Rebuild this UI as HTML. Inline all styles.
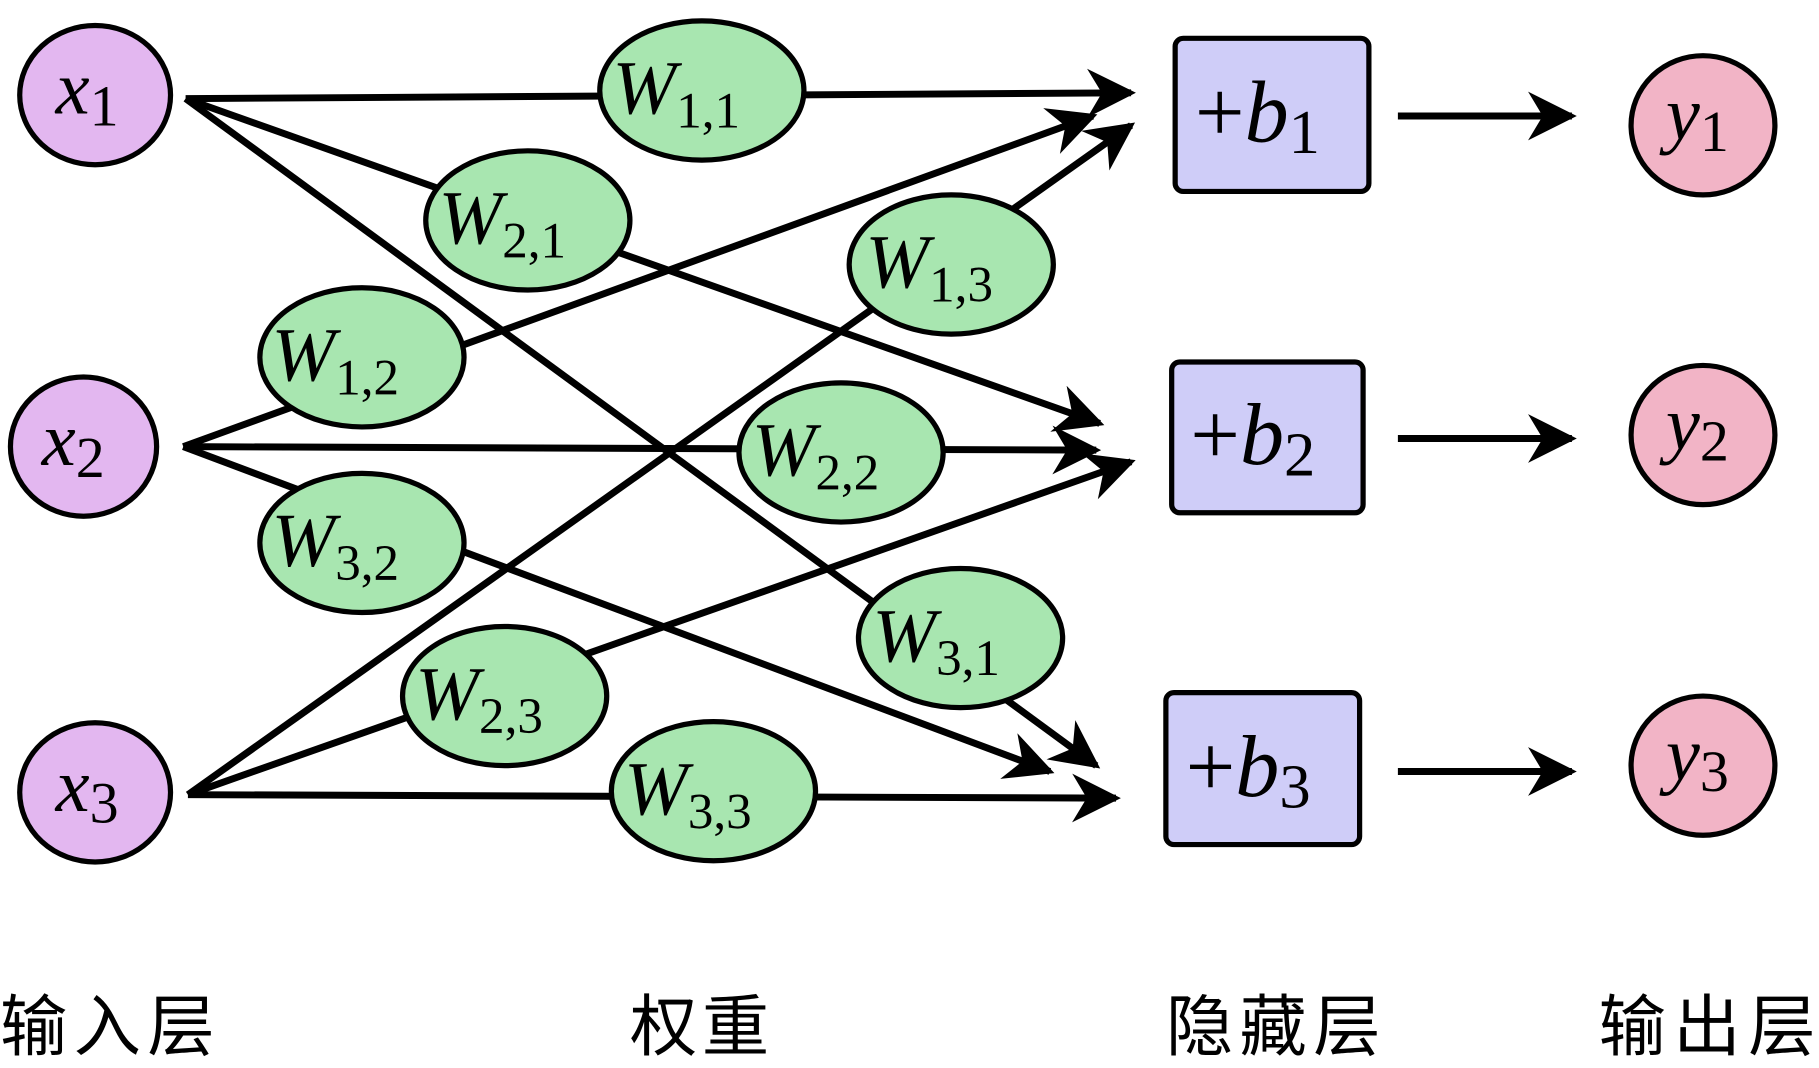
<!DOCTYPE html>
<html><head><meta charset="utf-8"><style>
html,body{margin:0;padding:0;background:#fff;}
svg{display:block}
.m{font-family:"Liberation Serif",serif;font-style:italic;}
.s{font-family:"Liberation Serif",serif;font-style:normal;}
.cjk{font-family:"Liberation Sans","Noto Sans CJK SC",sans-serif;font-size:58px;}
</style></head><body>
<svg width="1819" height="1068" viewBox="0 0 1568 920.6" xmlns="http://www.w3.org/2000/svg">
<defs>
<marker id="a" viewBox="0 0 10 10" refX="9" refY="5" markerWidth="7.5" markerHeight="7" orient="auto" markerUnits="strokeWidth">
<path d="M0,0 L10,5 L0,10 L3,5 z" fill="#000"/>
</marker>
</defs>
<g stroke="#000" stroke-width="6" fill="none" marker-end="url(#a)">
<line x1="160" y1="85" x2="975" y2="80"/>
<line x1="160" y1="85" x2="948" y2="365"/>
<line x1="160" y1="85" x2="945" y2="660"/>
<line x1="158" y1="385" x2="942" y2="100"/>
<line x1="158" y1="385" x2="945" y2="388"/>
<line x1="158" y1="385" x2="905" y2="665"/>
<line x1="162" y1="685" x2="975" y2="108"/>
<line x1="162" y1="685" x2="975" y2="398"/>
<line x1="162" y1="685" x2="962" y2="688"/>
<line x1="1205" y1="100" x2="1355" y2="100"/>
<line x1="1205" y1="378" x2="1355" y2="378"/>
<line x1="1205" y1="665" x2="1355" y2="665"/>
</g>
<g stroke="#000" stroke-width="4.5">
<ellipse cx="82" cy="82" rx="65" ry="60" fill="#e3b7f0"/>
<ellipse cx="72" cy="385" rx="63" ry="60" fill="#e3b7f0"/>
<ellipse cx="82" cy="683" rx="65" ry="60" fill="#e3b7f0"/>
<g fill="#a8e6b0">
<ellipse cx="605" cy="78" rx="88" ry="60"/>
<ellipse cx="455" cy="190" rx="88" ry="60"/>
<ellipse cx="820" cy="228" rx="88" ry="60"/>
<ellipse cx="312" cy="308" rx="88" ry="60"/>
<ellipse cx="725" cy="390" rx="88" ry="60"/>
<ellipse cx="312" cy="468" rx="88" ry="60"/>
<ellipse cx="828" cy="550" rx="88" ry="60"/>
<ellipse cx="435" cy="600" rx="88" ry="60"/>
<ellipse cx="615" cy="682" rx="88" ry="60"/>
</g>
<g fill="#cfcdf8">
<rect x="1013" y="33" width="167" height="132" rx="7"/>
<rect x="1010" y="312" width="165" height="130" rx="7"/>
<rect x="1005" y="597" width="167" height="131" rx="7"/>
</g>
<g fill="#f2b4c6">
<ellipse cx="1468" cy="108" rx="62" ry="60"/>
<ellipse cx="1468" cy="375" rx="62" ry="60"/>
<ellipse cx="1468" cy="660" rx="62" ry="60"/>
</g>
</g>
<g font-size="66" fill="#000">
<text x="48" y="98" class="m">x<tspan class="s" font-size="50" dy="10">1</tspan></text>
<text x="36" y="401" class="m">x<tspan class="s" font-size="50" dy="10">2</tspan></text>
<text x="48" y="699" class="m">x<tspan class="s" font-size="50" dy="10">3</tspan></text>
<text x="528" y="98" class="m">W<tspan class="s" font-size="44" dy="12">1,1</tspan></text>
<text x="378" y="210" class="m">W<tspan class="s" font-size="44" dy="12">2,1</tspan></text>
<text x="746" y="248" class="m">W<tspan class="s" font-size="44" dy="12">1,3</tspan></text>
<text x="234" y="328" class="m">W<tspan class="s" font-size="44" dy="12">1,2</tspan></text>
<text x="648" y="410" class="m">W<tspan class="s" font-size="44" dy="12">2,2</tspan></text>
<text x="234" y="488" class="m">W<tspan class="s" font-size="44" dy="12">3,2</tspan></text>
<text x="752" y="570" class="m">W<tspan class="s" font-size="44" dy="12">3,1</tspan></text>
<text x="358" y="620" class="m">W<tspan class="s" font-size="44" dy="12">2,3</tspan></text>
<text x="538" y="702" class="m">W<tspan class="s" font-size="44" dy="12">3,3</tspan></text>
<text x="1030" y="122" class="s" font-size="76">+<tspan class="m">b</tspan><tspan font-size="54" dy="10">1</tspan></text>
<text x="1026" y="400" class="s" font-size="76">+<tspan class="m">b</tspan><tspan font-size="54" dy="10">2</tspan></text>
<text x="1022" y="686" class="s" font-size="76">+<tspan class="m">b</tspan><tspan font-size="54" dy="10">3</tspan></text>
<text x="1436" y="120" class="m">y<tspan class="s" font-size="50" dy="10">1</tspan></text>
<text x="1436" y="387" class="m">y<tspan class="s" font-size="50" dy="10">2</tspan></text>
<text x="1436" y="672" class="m">y<tspan class="s" font-size="50" dy="10">3</tspan></text>
</g>
<g class="cjk" fill="#000">
<text x="0" y="905" textLength="185">输入层</text>
<text x="543" y="905" textLength="120">权重</text>
<text x="1005" y="905" textLength="185">隐藏层</text>
<text x="1378" y="905" textLength="187">输出层</text>
</g>
</svg>
</body></html>
